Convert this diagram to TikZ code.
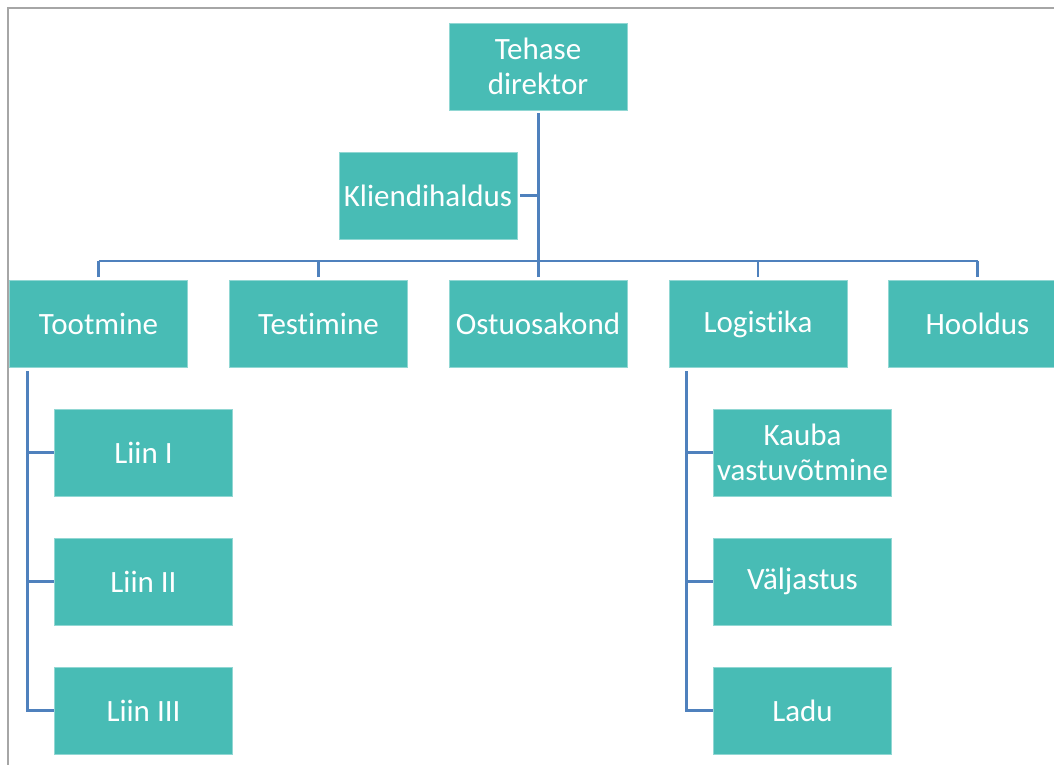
\documentclass[tikz,border=0pt]{standalone}
\usepackage{fontspec}
\setmainfont{Carlito}[Ligatures={NoCommon}, RawFeature={-calt;-dlig}]
\definecolor{boxfill}{HTML}{48BCB5}
\definecolor{linkblue}{HTML}{4F81BD}
\definecolor{frame}{HTML}{A6A6A6}
% keep "t" and "i" as separate glyphs
\newcommand{\tisep}{t\kern0pt i}
\begin{document}
\begin{tikzpicture}[x=1pt,y=-1pt,
  unit/.style={fill=boxfill, draw=boxfill!60!white, line width=0.6pt,
    minimum width=178pt, minimum height=87pt, inner sep=0pt,
    text=white, font=\fontsize{31}{35}\selectfont, align=center},
  link/.style={draw=linkblue, line width=3pt},
  bus/.style={draw=linkblue, line width=2.5pt}]
\useasboundingbox (0,0) rectangle (1054,765);
\fill[white] (0,0) rectangle (1054,765);
% page frame
\draw[frame, line width=2pt] (7.5,765) -- (7.5,8) -- (1054,8);

% top level
\node[unit] (dir) at (538,66.5) {Tehase\\direktor};
\node[unit] (kli) at (428,195.5) {Kliendihaldus};

% departments
\node[unit] (too) at (98.5,324) {Tootmine};
\node[unit] (tes) at (318.5,324) {Tes\tisep mine};
\node[unit] (ost) at (538,324) {Ostuosakond};
\node[unit] (log) at (758,324) {Logis\tisep ka};
\node[unit] (hoo) at (977.5,324) {Hooldus};

% production lines
\node[unit] (l1) at (143.5,452.5) {Liin I};
\node[unit] (l2) at (143.5,581.5) {Liin II};
\node[unit] (l3) at (143.5,710.5) {Liin III};

% logistics units
\node[unit] (k1) at (802.5,452.5) {Kauba\\vastuvõtmine};
\node[unit] (k2) at (802.5,581.5) {Väljastus};
\node[unit] (k3) at (802.5,710.5) {Ladu};

\coordinate (busy) at (0,261);
\coordinate (ts) at (27,368);
\coordinate (ls) at (686,368);

% trunk and assistant
\draw[link, shorten <=3pt, shorten >=3pt] (dir.south) -- (dir.south |- ost.north);
\draw[link, shorten <=3pt] (kli.east) -- (kli.east -| dir.south);

% horizontal bus and drops
\draw[bus] (too.north |- busy) -- (hoo.north |- busy);
\foreach \n in {too,tes,ost,log,hoo}
  \draw[bus, shorten <=3pt] (\n.north) -- (\n.north |- busy);

% sub-unit branches
\draw[link, shorten <=3pt] (ts) |- (l3.west);
\draw[link] (ts |- l1.west) -- (l1.west);
\draw[link] (ts |- l2.west) -- (l2.west);
\draw[link, shorten <=3pt] (ls) |- (k3.west);
\draw[link] (ls |- k1.west) -- (k1.west);
\draw[link] (ls |- k2.west) -- (k2.west);
\end{tikzpicture}
\end{document}
